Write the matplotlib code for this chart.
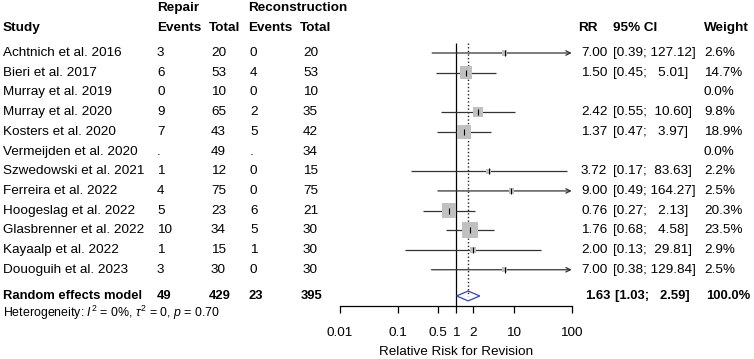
import numpy as np
import matplotlib
matplotlib.use("Agg")
import matplotlib.pyplot as plt
import matplotlib.transforms as mtransforms
from matplotlib.patches import Polygon

plt.rcParams['font.family'] = ['Liberation Sans', 'DejaVu Sans']
plt.rcParams['mathtext.fontset'] = 'custom'
plt.rcParams['mathtext.rm'] = 'Liberation Sans'
plt.rcParams['mathtext.it'] = 'Liberation Sans:italic'

# data
studies = ["Achtnich et al. 2016", "Bieri et al. 2017", "Murray et al. 2019",
           "Murray et al. 2020", "Kosters et al. 2020", "Vermeijden et al. 2020",
           "Szwedowski et al. 2021", "Ferreira et al. 2022", "Hoogeslag et al. 2022",
           "Glasbrenner et al. 2022", "Kayaalp et al. 2022", "Douoguih et al. 2023"]
rep_events = ["3", "6", "0", "9", "7", ".", "1", "4", "5", "10", "1", "3"]
rep_total = [20, 53, 10, 65, 43, 49, 12, 75, 23, 34, 15, 30]
rec_events = ["0", "4", "0", "2", "5", ".", "0", "0", "6", "5", "1", "0"]
rec_total = [20, 53, 10, 35, 42, 34, 15, 75, 21, 30, 30, 30]
rr = [7.00, 1.50, np.nan, 2.42, 1.37, np.nan, 3.72, 9.00, 0.76, 1.76, 2.00, 7.00]
ci_lo = [0.39, 0.45, np.nan, 0.55, 0.47, np.nan, 0.17, 0.49, 0.27, 0.68, 0.13, 0.38]
ci_hi = [127.12, 5.01, np.nan, 10.60, 3.97, np.nan, 83.63, 164.27, 2.13, 4.58, 29.81, 129.84]
weight = [2.6, 14.7, 0.0, 9.8, 18.9, 0.0, 2.2, 2.5, 20.3, 23.5, 2.9, 2.5]

pooled = 1.63
pooled_lo = 1.03
pooled_hi = 2.59
pooled_counts = ["49", "429", "23", "395"]
hetero = r"Heterogeneity: $I^2$ = 0%, $\tau^2$ = 0, $p$ = 0.70"

ticks = [0.01, 0.1, 0.5, 1, 2, 10, 100]
tick_labels = ["0.01", "0.1", "0.5", "1", "2", "10", "100"]

W, H = 754, 359
fig = plt.figure(figsize=(W / 100, H / 100), dpi=100)
ax = fig.add_axes([340 / W, 1 - 306 / H, (571.7 - 340) / W, (306 - 40) / H])
ax.set_xscale('log')
ax.set_xlim(0.01, 100)
ax.set_ylim(12.84, -0.66)
for s in ['top', 'right', 'left']:
    ax.spines[s].set_visible(False)
ax.spines['bottom'].set_linewidth(0.9)
ax.set_yticks([])
ax.set_xticks(ticks)
ax.set_xticklabels(tick_labels)
ax.minorticks_off()
ax.tick_params(axis='x', length=5, width=0.9, pad=10, labelsize=9.7)
ax.set_xlabel("Relative Risk for Revision", fontsize=9.7, labelpad=5)

rows = np.arange(len(studies))
re_row = 12.33
fs = 9.7
line_col = '#333333'

# reference lines
ax.vlines(1, -0.5, 12.84, color='black', lw=0.9)
ax.vlines(pooled, -0.5, re_row, color='#222222', lw=1.0, linestyles=(0, (1, 1.6)))

for i in rows:
    if np.isnan(rr[i]):
        continue
    if ci_hi[i] > 100:
        ax.annotate("", xy=(100, i), xytext=(ci_lo[i], i),
                    arrowprops=dict(arrowstyle='->', lw=0.9, color=line_col,
                                    shrinkA=0, shrinkB=0, mutation_scale=8))
    else:
        ax.hlines(i, ci_lo[i], ci_hi[i], color=line_col, lw=0.9)
    ax.scatter(rr[i], i, marker='s', s=5.6 * weight[i], color='#c0c0c0',
               edgecolors='none', zorder=3)
    ax.plot(rr[i], i, marker='|', ms=4, color='black', mew=0.8, zorder=4)

dia = Polygon([(pooled_lo, re_row), (pooled, re_row - 0.25),
               (pooled_hi, re_row), (pooled, re_row + 0.25)],
              closed=True, fill=False, edgecolor='#3344bb', lw=0.9, zorder=4)
ax.add_patch(dia)

# text columns
tr = mtransforms.blended_transform_factory(fig.transFigure, ax.transData)


def put(x, y, s, bold=False, size=fs):
    ax.text(x / W, y, s, transform=tr, ha='left', va='center', fontsize=size,
            fontweight='bold' if bold else 'normal', clip_on=False)


y_top = -2.28
y_hdr = -1.27
put(3, y_hdr, "Study", True)
put(157, y_top, "Repair", True)
put(157, y_hdr, "Events", True)
put(209, y_hdr, "Total", True)
put(248, y_top, "Reconstruction", True)
put(248, y_hdr, "Events", True)
put(300, y_hdr, "Total", True)
put(578, y_hdr, "RR", True)
put(613, y_hdr, "95% CI", True)
put(704, y_hdr, "Weight", True)

for i in rows:
    put(3, i, studies[i])
    put(157, i, rep_events[i])
    put(211, i, str(rep_total[i]))
    put(250, i, rec_events[i])
    put(303, i, str(rec_total[i]))
    if not np.isnan(rr[i]):
        put(581, i, "%.2f" % rr[i])
        put(613, i, "[%.2f; %6.2f]" % (ci_lo[i], ci_hi[i]))
    put(704, i, "%.1f%%" % weight[i])

bs = 9.4
put(3, re_row, "Random effects model", True, bs)
put(157, re_row, pooled_counts[0], True, bs)
put(209, re_row, pooled_counts[1], True, bs)
put(249, re_row, pooled_counts[2], True, bs)
put(301, re_row, pooled_counts[3], True, bs)
put(585, re_row, "%.2f" % pooled, True, bs)
put(615, re_row, "[%.2f; %6.2f]" % (pooled_lo, pooled_hi), True, bs)
put(706, re_row, "100.0%", True, bs)
put(3, 13.2, hetero, size=8.9)

fig.savefig("out.png", dpi=100)
